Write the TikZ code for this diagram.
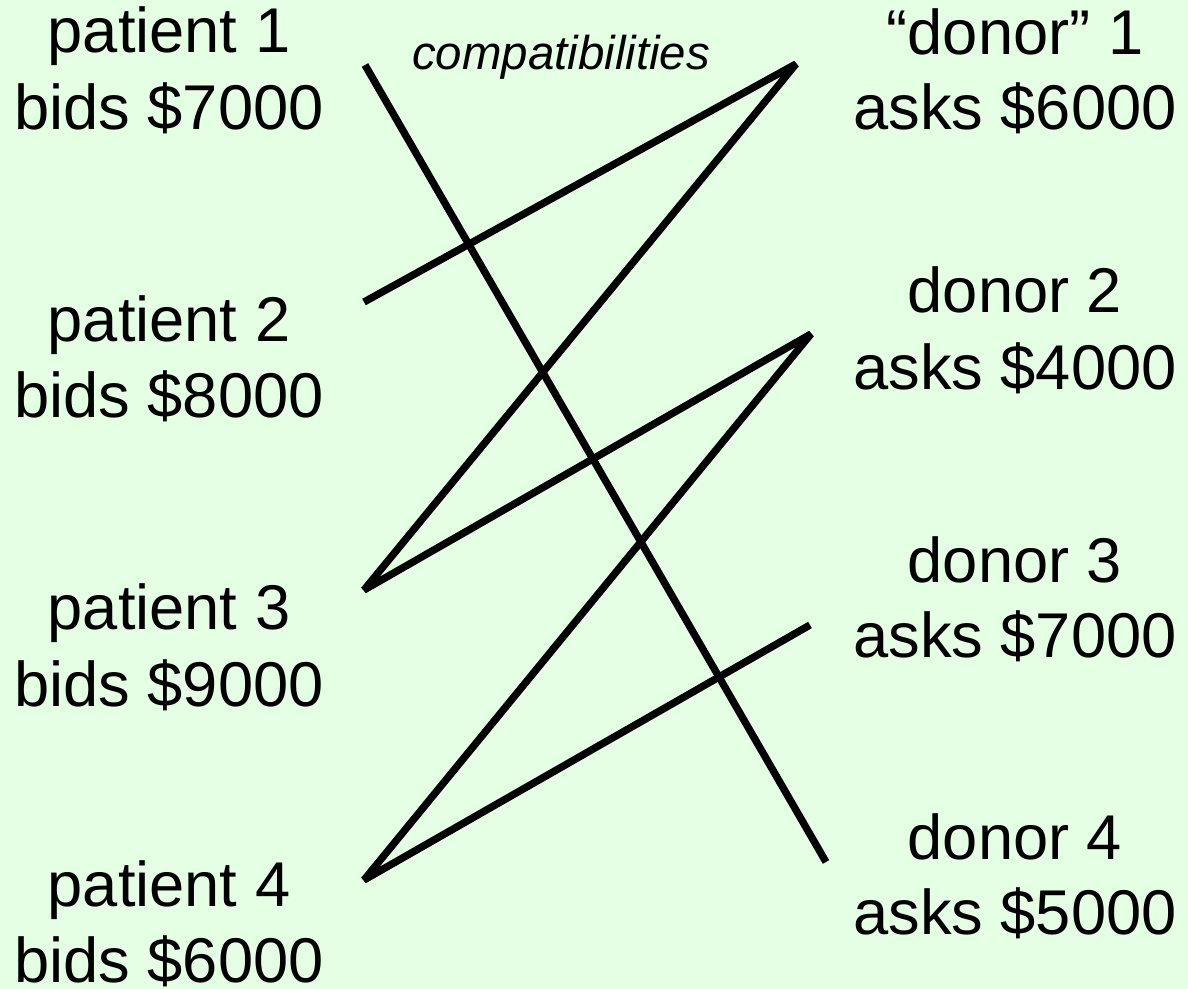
\documentclass[tikz,border=0pt]{standalone}
\usepackage{fontspec}
\setmainfont{Liberation Sans}
\definecolor{bgmint}{RGB}{229,255,229}
\begin{document}
\begin{tikzpicture}[x=0.02cm,y=-0.02cm,
  lbl/.style={anchor=base,inner sep=0pt,font=\fontsize{36}{42}\selectfont},
  note/.style={anchor=base,inner sep=0pt,font=\fontsize{27}{32}\selectfont\itshape},
  edge/.style={line width=4.2pt,line join=bevel,black}]
\fill[bgmint] (0,0) rectangle (1188,989);
\useasboundingbox (0,0) rectangle (1188,989);
% patients
\node[lbl] (p1a) at (169,53) {patient 1};
\node[lbl] (p1b) at (169,130) {bids \$7000};
\node[lbl] (p2a) at (169,342) {patient 2};
\node[lbl] (p2b) at (169,418) {bids \$8000};
\node[lbl] (p3a) at (169,630) {patient 3};
\node[lbl] (p3b) at (169,707) {bids \$9000};
\node[lbl] (p4a) at (169,907) {patient 4};
\node[lbl] (p4b) at (169,983) {bids \$6000};
% donors
\node[lbl] (d1a) at (1015,55) {“donor” 1};
\node[lbl] (d1b) at (1015,130) {asks \$6000};
\node[lbl] (d2a) at (1015,313) {donor 2};
\node[lbl] (d2b) at (1015,390) {asks \$4000};
\node[lbl] (d3a) at (1015,583) {donor 3};
\node[lbl] (d3b) at (1015,658) {asks \$7000};
\node[lbl] (d4a) at (1015,860) {donor 4};
\node[lbl] (d4b) at (1015,935) {asks \$5000};
\node[note] (comp) at (561,70) {compatibilities};
% connector end points
\coordinate (P1) at (365,65);
\coordinate (P2) at (364,302);
\coordinate (P3) at (364,590);
\coordinate (P4) at (364,880);
\coordinate (D1) at (796,64);
\coordinate (D2) at (811,334);
\coordinate (D3) at (810,625);
\coordinate (D4) at (826,862);
\draw[edge] (P1) -- (D4);
\draw[edge] (P2) -- (D1) -- (P3) -- (D2) -- (P4) -- (D3);
\end{tikzpicture}
\end{document}
